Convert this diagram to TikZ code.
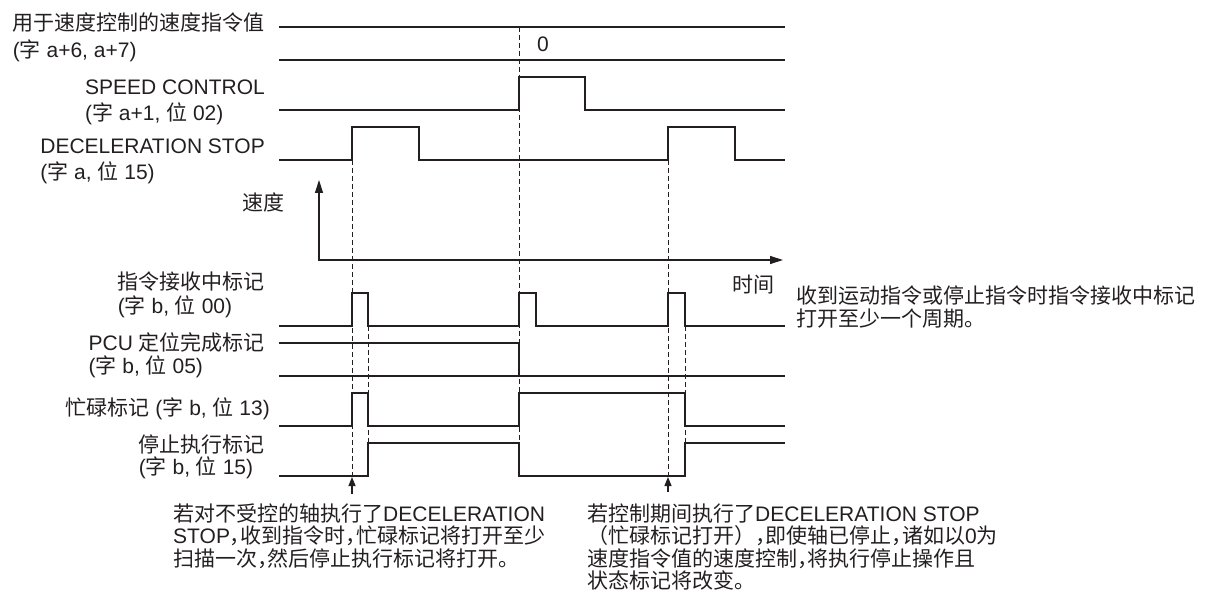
\documentclass[tikz,border=0pt]{standalone}
\usepackage{fontspec}
\setmainfont{Liberation Sans}
\newfontfamily\cjk{Noto Sans CJK SC}
\newfontfamily\cjkhalf[RawFeature={+halt}]{Noto Sans CJK SC}
\usepackage{xcolor}
\definecolor{ink}{HTML}{231F20}
\usetikzlibrary{arrows.meta}
\newcommand{\zc}{{\cjkhalf ，}}

\begin{document}
\begin{tikzpicture}[x=1pt, y=-1pt, >={Triangle[length=13pt, width=8pt]},
  sig/.style={draw=ink, line width=1.3pt},
  dashline/.style={draw=ink, line width=1pt, dash pattern=on 5pt off 3pt},
  pointer/.style={draw=ink, line width=1.3pt, -{Triangle[length=9pt, width=7pt]}},
  lbl/.style={font=\fontsize{21}{#1}\selectfont, text=ink, align=left,
              inner sep=0pt, anchor=base east},
  lbl/.default=25,
  note/.style={font=\fontsize{21}{#1}\selectfont, text=ink, align=left,
               inner sep=0pt, anchor=base west},
  note/.default=22.5]
  \useasboundingbox (0,0) rectangle (1209,596);

  % signal labels (anchored at the baseline of the last line)
  \node[lbl=27] (cmdval) at (265,58)
    {{\cjk 用于速度控制的速度指令值}\\({\cjk 字} a+6, a+7)};
  \node[lbl=26] (spdctl) at (265,121)
    {SPEED CONTROL\\({\cjk 字} a+1, {\cjk 位} 02)};
  \node[lbl=26] (decstop) at (265,179)
    {DECELERATION STOP\\({\cjk 字} a, {\cjk 位} 15)};
  \node[font=\fontsize{21}{25}\selectfont\cjk, text=ink, inner sep=0pt] (speed)
    at (263,202) {速度};
  \node[lbl=24] (cmdrecv) at (265,313)
    {{\cjk 指令接收中标记}\\({\cjk 字} b, {\cjk 位} 00)};
  \node[lbl=23] (pcu) at (265,373)
    {PCU {\cjk 定位完成标记}\\({\cjk 字} b, {\cjk 位} 05)};
  \node[lbl] (busy) at (270,415)
    {{\cjk 忙碌标记} ({\cjk 字} b, {\cjk 位} 13)};
  \node[lbl=22] (stopexec) at (265,474)
    {{\cjk 停止执行标记}\\({\cjk 字} b, {\cjk 位} 15)};
  \node[font=\fontsize{21}{25}\selectfont\cjk, text=ink, inner sep=0pt] (time)
    at (753,285) {时间};

  % speed command value
  \draw[sig] (279,27) -- (785,27);
  \draw[sig] (279,60) -- (785,60);
  \node[font=\fontsize{21}{25}\selectfont, text=ink, inner sep=0pt] (zero)
    at (543,44) {0};

  % SPEED CONTROL
  \draw[sig] (279,110) -- (519,110) -- (519,77) -- (585,77) -- (585,110) -- (785,110);

  % DECELERATION STOP
  \draw[sig] (279,160) -- (352,160) -- (352,127) -- (419,127) -- (419,160)
    -- (668,160) -- (668,127) -- (735,127) -- (735,160) -- (785,160);

  % speed / time axes
  \draw[sig, <->] (319,180) -- (319,260) -- (783,260);

  % command receiving flag
  \draw[sig] (279,326) -- (352,326) -- (352,293) -- (368,293) -- (368,326)
    -- (519,326) -- (519,293) -- (536,293) -- (536,326)
    -- (668,326) -- (668,293) -- (685,293) -- (685,326) -- (785,326);

  % PCU positioning completed flag
  \draw[sig] (279,343) -- (519,343) -- (519,376);
  \draw[sig] (279,376) -- (785,376);

  % busy flag
  \draw[sig] (279,426) -- (352,426) -- (352,393) -- (368,393) -- (368,426)
    -- (519,426) -- (519,393) -- (685,393) -- (685,426) -- (785,426);

  % stop execution flag
  \draw[sig] (279,476) -- (368,476) -- (368,443) -- (519,443) -- (519,476)
    -- (685,476) -- (685,443) -- (785,443);

  % timing marks
  \draw[dashline] (352,160) -- (352,476);
  \draw[dashline] (368,326) -- (368,443);
  \draw[dashline] (519,27) -- (519,476);
  \draw[dashline] (668,160) -- (668,476);
  \draw[dashline] (685,326) -- (685,476);

  % notes
  \coordinate (tailA) at (352,494);
  \coordinate (tipA) at (352,477);
  \coordinate (tailB) at (668,492);
  \coordinate (tipB) at (668,477);
  \draw[pointer] (tailA) -- (tipA);
  \draw[pointer] (tailB) -- (tipB);

  \node[note=23] (recvnote) at (796,326)
    {{\cjk 收到运动指令或停止指令时指令接收中标记}\\{\cjk 打开至少一个周期。}};
  \node[note] (noteA) at (173,566)
    {{\cjk 若对不受控的轴执行了}DECELERATION\\
     STOP\zc{\cjk 收到指令时}\zc{\cjk 忙碌标记将打开至少}\\
     {\cjk 扫描一次}\zc{\cjk 然后停止执行标记将打开。}};
  \node[note] (noteB) at (587,588.5)
    {{\cjk 若控制期间执行了}DECELERATION STOP\\
     {\cjk （忙碌标记打开）}\zc{\cjk 即使轴已停止}\zc{\cjk 诸如以}0{\cjk 为}\\
     {\cjk 速度指令值的速度控制}\zc{\cjk 将执行停止操作且}\\
     {\cjk 状态标记将改变。}};
\end{tikzpicture}
\end{document}
